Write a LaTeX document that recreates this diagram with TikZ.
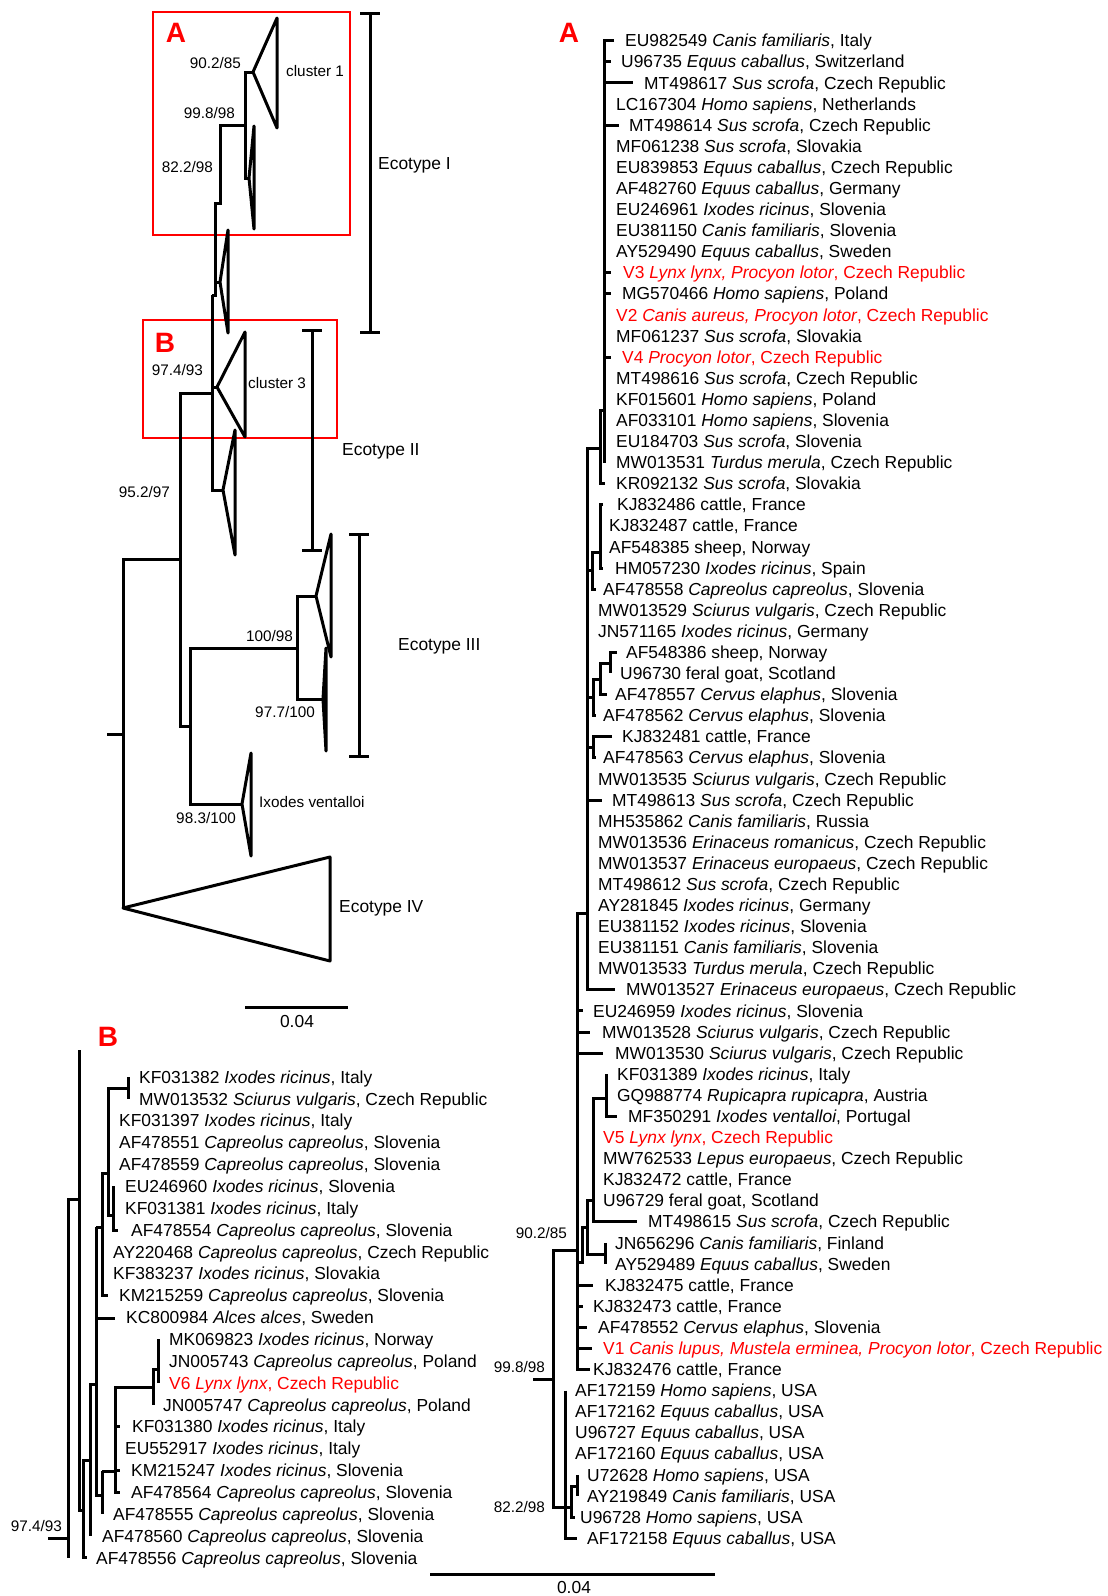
\documentclass[tikz,border=0pt]{standalone}
\usepackage{fontspec}
\setmainfont{Liberation Sans}
\usetikzlibrary{positioning}
\definecolor{vred}{HTML}{FF0000}
\newcommand\fsz[1]{\fontsize{#1}{#1}\selectfont}

\begin{document}
\begin{tikzpicture}[x=1pt,y=-1pt,
  br/.style={line width=3pt,line join=miter},
  clade/.style={line width=3pt,line join=round},
  tip/.style={anchor=base west,inner sep=0pt,font=\fsz{17.4}},
  bsv/.style={anchor=base east,inner sep=0pt,font=\fsz{15.3}},
  grp/.style={anchor=base west,inner sep=0pt,font=\fsz{17.4}},
  clu/.style={anchor=base west,inner sep=0pt,font=\fsz{15.3}},
  panel/.style={text=vred,font=\fsz{28}\bfseries,inner sep=0pt},
  redbox/.style={draw=vred,line width=2.8pt},
  bar/.style={line width=3pt}]
\useasboundingbox (0,0) rectangle (1108,1596);

% ---- overview tree
\draw[redbox] (153,12) rectangle (350,235);
\draw[redbox] (143,320) rectangle (337,438);
\node[panel] (pa) at (176,33) {A};
\node[panel] (pb) at (165,343) {B};

\draw[clade] (253,72) -- (277,18) -- (277,128) -- cycle;
\draw[br] (253,72) -- (245,72) -- (245,178) -- (249,178);
\draw[clade] (249,178) -- (254,126) -- (254,229) -- cycle;
\draw[br] (245,125) -- (220,125) -- (220,203) -- (215,203) -- (215,295) -- (212,295);
\draw[br] (215,282) -- (220,282);
\draw[clade] (220,282) -- (228,230) -- (228,333) -- cycle;
\draw[br] (212,295) -- (212,490) -- (223,490);
\draw[clade] (223,490) -- (235,430) -- (235,555) -- cycle;
\draw[br] (212,387) -- (217,387);
\draw[clade] (217,387) -- (245,332) -- (245,437) -- cycle;
\draw[br] (212,393) -- (180,393) -- (180,726) -- (190,726);
\draw[br] (180,559) -- (123,559) -- (123,908);
\draw[br] (107,734) -- (123,734);
\draw[clade] (123,908) -- (330,857) -- (330,961) -- cycle;
\draw[br] (297,648) -- (190,648) -- (190,804) -- (242,804);
\draw[clade] (242,804) -- (251,753) -- (251,856) -- cycle;
\draw[br] (316,596) -- (297,596) -- (297,699) -- (323,699);
\draw[clade] (316,596) -- (331,534) -- (331,657) -- cycle;
\draw[clade] (323,699) -- (326,648) -- (326,751) -- cycle;

% brackets
\draw[bar] (360,13) -- (380,13) (370,13) -- (370,332) (360,332) -- (380,332);
\draw[bar] (302,330) -- (322,330) (312,330) -- (312,550) (302,550) -- (322,550);
\draw[bar] (349,534) -- (369,534) (359,534) -- (359,756) (349,756) -- (369,756);

\node[clu] (cl1) at (286,76.5) {cluster 1};
\node[clu] (cl3) at (248,388.5) {cluster 3};
\node[clu] (ixv) at (259,807.5) {Ixodes ventalloi};
\node[grp] (eco1) at (378,169) {Ecotype I};
\node[grp] (eco2) at (342,455) {Ecotype II};
\node[grp] (eco3) at (398,650) {Ecotype III};
\node[grp] (eco4) at (339,912) {Ecotype IV};
\node[bsv] at (241,68.5) {90.2/85};
\node[bsv] at (235,118.5) {99.8/98};
\node[bsv] at (213,172.5) {82.2/98};
\node[bsv] at (203,375.5) {97.4/93};
\node[bsv] at (170,497.5) {95.2/97};
\node[bsv] at (293,641.5) {100/98};
\node[bsv] at (315,717.5) {97.7/100};
\node[bsv] at (236,823.5) {98.3/100};

\draw[bar] (245,1007) -- (348,1007);
\node[grp,anchor=base] (sc1) at (297,1027) {0.04};

% ---- panel A
\node[panel] (pa2) at (569,33) {A};
\foreach \i/\x/\t in {
 1/625/{EU982549 \textit{Canis familiaris}, Italy},
 2/621/{U96735 \textit{Equus caballus}, Switzerland},
 3/644/{MT498617 \textit{Sus scrofa}, Czech Republic},
 4/616/{LC167304 \textit{Homo sapiens}, Netherlands},
 5/629/{MT498614 \textit{Sus scrofa}, Czech Republic},
 6/616/{MF061238 \textit{Sus scrofa}, Slovakia},
 7/616/{EU839853 \textit{Equus caballus}, Czech Republic},
 8/616/{AF482760 \textit{Equus caballus}, Germany},
 9/616/{EU246961 \textit{Ixodes ricinus}, Slovenia},
 10/616/{EU381150 \textit{Canis familiaris}, Slovenia},
 11/616/{AY529490 \textit{Equus caballus}, Sweden},
 12/623/{\color{vred}V3 \textit{Lynx lynx, Procyon lotor}, Czech Republic},
 13/622/{MG570466 \textit{Homo sapiens}, Poland},
 14/616/{\color{vred}V2 \textit{Canis aureus, Procyon lotor}, Czech Republic},
 15/616/{MF061237 \textit{Sus scrofa}, Slovakia},
 16/622/{\color{vred}V4 \textit{Procyon lotor}, Czech Republic},
 17/616/{MT498616 \textit{Sus scrofa}, Czech Republic},
 18/616/{KF015601 \textit{Homo sapiens}, Poland},
 19/616/{AF033101 \textit{Homo sapiens}, Slovenia},
 20/616/{EU184703 \textit{Sus scrofa}, Slovenia},
 21/616/{MW013531 \textit{Turdus merula}, Czech Republic},
 22/616/{KR092132 \textit{Sus scrofa}, Slovakia},
 23/617/{KJ832486 cattle, France},
 24/609/{KJ832487 cattle, France},
 25/609/{AF548385 sheep, Norway},
 26/615/{HM057230 \textit{Ixodes ricinus}, Spain},
 27/603/{AF478558 \textit{Capreolus capreolus}, Slovenia},
 28/598/{MW013529 \textit{Sciurus vulgaris}, Czech Republic},
 29/598/{JN571165 \textit{Ixodes ricinus}, Germany},
 30/626/{AF548386 sheep, Norway},
 31/620/{U96730 feral goat, Scotland},
 32/615/{AF478557 \textit{Cervus elaphus}, Slovenia},
 33/603/{AF478562 \textit{Cervus elaphus}, Slovenia},
 34/622/{KJ832481 cattle, France},
 35/603/{AF478563 \textit{Cervus elaphus}, Slovenia},
 36/598/{MW013535 \textit{Sciurus vulgaris}, Czech Republic},
 37/612/{MT498613 \textit{Sus scrofa}, Czech Republic},
 38/598/{MH535862 \textit{Canis familiaris}, Russia},
 39/598/{MW013536 \textit{Erinaceus romanicus}, Czech Republic},
 40/598/{MW013537 \textit{Erinaceus europaeus}, Czech Republic},
 41/598/{MT498612 \textit{Sus scrofa}, Czech Republic},
 42/598/{AY281845 \textit{Ixodes ricinus}, Germany},
 43/598/{EU381152 \textit{Ixodes ricinus}, Slovenia},
 44/598/{EU381151 \textit{Canis familiaris}, Slovenia},
 45/598/{MW013533 \textit{Turdus merula}, Czech Republic},
 46/626/{MW013527 \textit{Erinaceus europaeus}, Czech Republic},
 47/593/{EU246959 \textit{Ixodes ricinus}, Slovenia},
 48/602/{MW013528 \textit{Sciurus vulgaris}, Czech Republic},
 49/615/{MW013530 \textit{Sciurus vulgaris}, Czech Republic},
 50/617/{KF031389 \textit{Ixodes ricinus}, Italy},
 51/617/{GQ988774 \textit{Rupicapra rupicapra}, Austria},
 52/628/{MF350291 \textit{Ixodes ventalloi}, Portugal},
 53/603/{\color{vred}V5 \textit{Lynx lynx}, Czech Republic},
 54/603/{MW762533 \textit{Lepus europaeus}, Czech Republic},
 55/603/{KJ832472 cattle, France},
 56/603/{U96729 feral goat, Scotland},
 57/648/{MT498615 \textit{Sus scrofa}, Czech Republic},
 58/615/{JN656296 \textit{Canis familiaris}, Finland},
 59/615/{AY529489 \textit{Equus caballus}, Sweden},
 60/605/{KJ832475 cattle, France},
 61/593/{KJ832473 cattle, France},
 62/598/{AF478552 \textit{Cervus elaphus}, Slovenia},
 63/603/{\color{vred}V1 \textit{Canis lupus, Mustela erminea, Procyon lotor}, Czech Republic},
 64/593/{KJ832476 cattle, France},
 65/575/{AF172159 \textit{Homo sapiens}, USA},
 66/575/{AF172162 \textit{Equus caballus}, USA},
 67/575/{U96727 \textit{Equus caballus}, USA},
 68/575/{AF172160 \textit{Equus caballus}, USA},
 69/587/{U72628 \textit{Homo sapiens}, USA},
 70/587/{AY219849 \textit{Canis familiaris}, USA},
 71/580/{U96728 \textit{Homo sapiens}, USA},
 72/587/{AF172158 \textit{Equus caballus}, USA}}
  \node[tip] (a\i) at (\x,{40.7+(\i-1)*21.09+6.2}) {\t};

% branches of A
\draw[br] (614,40.7) -- (604,40.7) -- (604,462.5);
\foreach \r/\e in {61.8/611,82.9/633,125.1/619,272.7/611,293.8/611,357.1/611}
  \draw[br] (604,\r) -- (\e,\r);
\draw[br] (604,410) -- (600,410) -- (600,483.6) -- (605,483.6);
\draw[br] (600,448) -- (587,448) -- (587,989.8) -- (615,989.8);
\draw[br] (603,504.7) -- (600,504.7) -- (600,568) -- (603,568);
\draw[br] (600,552) -- (592,552) -- (592,589.1) -- (596,589.1);
\draw[br] (587,570) -- (592,570);
\draw[br] (617,652.3) -- (610,652.3) -- (610,673.4);
\draw[br] (610,663) -- (600,663) -- (600,694.5) -- (607,694.5);
\draw[br] (600,679) -- (593,679) -- (593,715.6) -- (596,715.6);
\draw[br] (587,697) -- (593,697);
\draw[br] (612,736.7) -- (593,736.7) -- (593,757.8) -- (596,757.8);
\draw[br] (587,747) -- (593,747);
\draw[br] (587,800) -- (602,800);
\draw[br] (587,913) -- (577,913) -- (577,1369.4) -- (590,1369.4);
\foreach \r/\e in {1010.9/583,1032/590,1053.1/603,1285.1/593,1306.2/583,1327.3/587,1348.4/592}
  \draw[br] (577,\r) -- (\e,\r);
\draw[br] (606,1074.2) -- (606,1116.4) -- (617,1116.4);
\draw[br] (606,1098) -- (593,1098) -- (593,1221.8) -- (637,1221.8);
\draw[br] (593,1200) -- (587,1200) -- (587,1254) -- (605,1254);
\draw[br] (605,1242.9) -- (605,1264);
\draw[br] (587,1227) -- (582,1227) -- (582,1262) -- (577,1262);
\draw[br] (577,1250) -- (553,1250) -- (553,1507) -- (571,1507);
\draw[br] (533,1379) -- (553,1379);
\draw[br] (565,1390.5) -- (565,1538.2) -- (577,1538.2);
\draw[br] (577,1486) -- (571,1486) -- (571,1517.1) -- (575,1517.1);
\draw[br] (577,1474.9) -- (577,1496);
\node[bsv] at (567,1238.5) {90.2/85};
\node[bsv] at (545,1372.5) {99.8/98};
\node[bsv] at (545,1512.5) {82.2/98};

\draw[bar] (430,1574) -- (715,1574);
\node[grp,anchor=base] (sc2) at (574,1593) {0.04};

% ---- panel B
\node[panel] (pb2) at (108,1037) {B};
\foreach \i/\x/\t in {
 1/139/{KF031382 \textit{Ixodes ricinus}, Italy},
 2/139/{MW013532 \textit{Sciurus vulgaris}, Czech Republic},
 3/119/{KF031397 \textit{Ixodes ricinus}, Italy},
 4/119/{AF478551 \textit{Capreolus capreolus}, Slovenia},
 5/119/{AF478559 \textit{Capreolus capreolus}, Slovenia},
 6/125/{EU246960 \textit{Ixodes ricinus}, Slovenia},
 7/125/{KF031381 \textit{Ixodes ricinus}, Italy},
 8/131/{AF478554 \textit{Capreolus capreolus}, Slovenia},
 9/113/{AY220468 \textit{Capreolus capreolus}, Czech Republic},
 10/113/{KF383237 \textit{Ixodes ricinus}, Slovakia},
 11/119/{KM215259 \textit{Capreolus capreolus}, Slovenia},
 12/126/{KC800984 \textit{Alces alces}, Sweden},
 13/169/{MK069823 \textit{Ixodes ricinus}, Norway},
 14/169/{JN005743 \textit{Capreolus capreolus}, Poland},
 15/169/{\color{vred}V6 \textit{Lynx lynx}, Czech Republic},
 16/163/{JN005747 \textit{Capreolus capreolus}, Poland},
 17/132/{KF031380 \textit{Ixodes ricinus}, Italy},
 18/125/{EU552917 \textit{Ixodes ricinus}, Italy},
 19/131/{KM215247 \textit{Ixodes ricinus}, Slovenia},
 20/131/{AF478564 \textit{Capreolus capreolus}, Slovenia},
 21/113/{AF478555 \textit{Capreolus capreolus}, Slovenia},
 22/102/{AF478560 \textit{Capreolus capreolus}, Slovenia},
 23/96/{AF478556 \textit{Capreolus capreolus}, Slovenia}}
  \node[tip] (b\i) at (\x,{1077+(\i-1)*21.86+6.2}) {\t};

% branches of B
\draw[br] (79,1050) -- (79,1510) -- (83,1510);
\draw[br] (79,1199) -- (68,1199) -- (68,1558);
\draw[br] (48,1538) -- (68,1538);
\draw[br] (90,1460) -- (83,1460) -- (83,1557.9) -- (87,1557.9);
\draw[br] (96,1384) -- (90,1384) -- (90,1536.1);
\draw[br] (96,1227) -- (96,1495) -- (102,1495);
\draw[br] (96,1227) -- (102,1227);
\draw[br] (108,1173) -- (102,1173) -- (102,1295.6) -- (108,1295.6);
\draw[br] (128,1077) -- (128,1098.9);
\draw[br] (128,1088) -- (108,1088) -- (108,1215) -- (113,1215);
\draw[br] (113,1186.3) -- (113,1230) -- (118,1230);
\draw[br] (96,1318) -- (115,1318);
\draw[br] (102,1471) -- (102,1514.2);
\draw[br] (102,1471) -- (115,1471);
\draw[br] (153,1387) -- (115,1387) -- (115,1492.3) -- (120,1492.3);
\draw[br] (115,1426.8) -- (120,1426.8) (115,1470.5) -- (120,1470.5);
\draw[br] (158,1369) -- (153,1369) -- (153,1404.9);
\draw[br] (158,1339.3) -- (158,1383);
\node[bsv] at (62,1531.5) {97.4/93};
\end{tikzpicture}
\end{document}
